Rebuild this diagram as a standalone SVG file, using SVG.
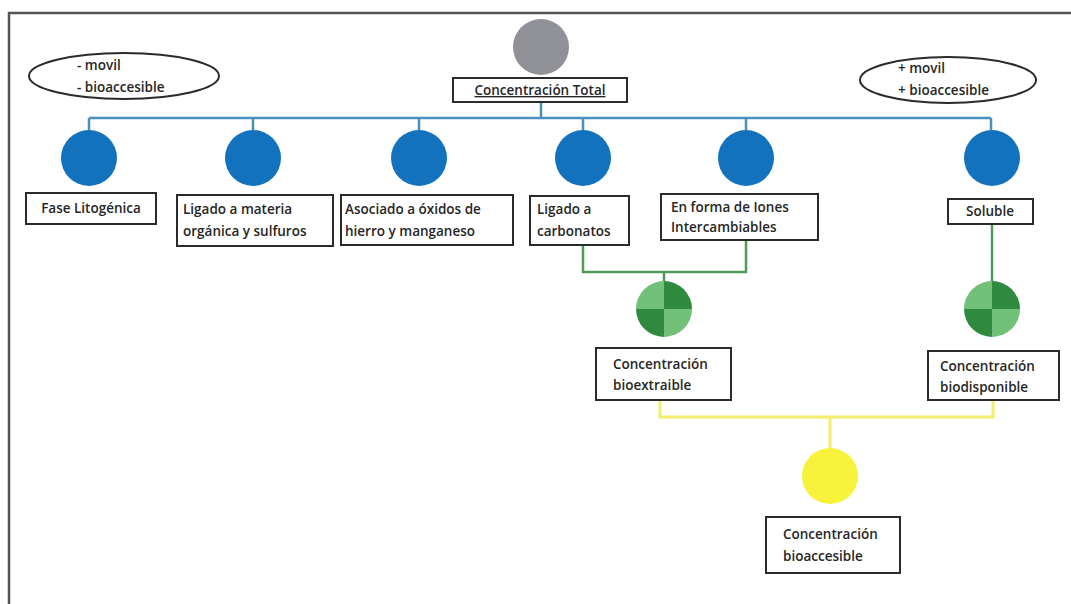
<svg xmlns="http://www.w3.org/2000/svg" width="1071" height="604" viewBox="0 0 1071 604">
<style>
  .frame{stroke:#555;stroke-width:2.5;fill:none}
  .box{fill:#fff;stroke:#2b2b2b;stroke-width:2}
  .ell{fill:#fff;stroke:#2b2b2b;stroke-width:2}
  .t{font-family:"Open Sans","Liberation Sans",sans-serif;font-size:13.5px;font-weight:600;fill:#262626}
  .blue{fill:#1272bd}
  .lb{stroke:#4a8fc0;stroke-width:2.5;fill:none}
  .lg{stroke:#4e9a56;stroke-width:2.5;fill:none}
  .ly{stroke:#f3ee6a;stroke-width:3;fill:none}
</style>
<defs>
  <clipPath id="cc"><circle cx="0" cy="0" r="28"/></clipPath>
  <g id="checker">
    <g clip-path="url(#cc)">
      <rect x="-28" y="-28" width="28" height="28" fill="#72c078"/>
      <rect x="0" y="-28" width="28" height="28" fill="#2f8a3f"/>
      <rect x="-28" y="0" width="28" height="28" fill="#2f8a3f"/>
      <rect x="0" y="0" width="28" height="28" fill="#72c078"/>
    </g>
  </g>
</defs>
<rect width="1071" height="604" fill="#fff"/>
<path class="frame" d="M9,604 V13 H1071"/>

<g id="connectors">
  <path class="lb" d="M541,102 V118"/>
  <path class="lb" d="M89,118 H991"/>
  <path class="lb" d="M89,118 V130 M253,118 V130 M419,118 V130 M583,118 V130 M746,118 V130 M991,118 V130"/>
  <path class="lg" d="M583,245 V272 H746 V240 M664,272 V282"/>
  <path class="lg" d="M992,224 V282"/>
  <path class="ly" d="M660,400 V417 H993 V400 M830,417 V448"/>
</g>

<g id="ellipse-left">
  <ellipse class="ell" cx="124" cy="76" rx="95" ry="23"/>
  <text class="t" x="77" y="70">- movil</text>
  <text class="t" x="77" y="92">- bioaccesible</text>
</g>
<g id="ellipse-right">
  <ellipse class="ell" cx="948" cy="80" rx="88" ry="23"/>
  <text class="t" x="898" y="73">+ movil</text>
  <text class="t" x="898" y="95">+ bioaccesible</text>
</g>

<g id="total">
  <circle cx="541" cy="47" r="28" fill="#8f9197"/>
  <rect class="box" x="453" y="78" width="174" height="24"/>
  <text class="t" x="540" y="95" text-anchor="middle" text-decoration="underline">Concentración Total</text>
</g>

<g id="fase">
  <circle class="blue" cx="89" cy="158" r="28"/>
  <rect class="box" x="26" y="193" width="130" height="31"/>
  <text class="t" x="91" y="213" text-anchor="middle">Fase Litogénica</text>
</g>
<g id="materia">
  <circle class="blue" cx="253" cy="158" r="28"/>
  <rect class="box" x="177" y="195" width="156" height="51"/>
  <text class="t" x="183" y="214">Ligado a materia</text>
  <text class="t" x="183" y="236">orgánica y sulfuros</text>
</g>
<g id="oxidos">
  <circle class="blue" cx="419" cy="158" r="28"/>
  <rect class="box" x="341" y="195" width="172" height="50"/>
  <text class="t" x="345" y="214">Asociado a óxidos de</text>
  <text class="t" x="345" y="236">hierro y manganeso</text>
</g>
<g id="carbonatos">
  <circle class="blue" cx="583" cy="158" r="28"/>
  <rect class="box" x="530" y="196" width="99" height="49"/>
  <text class="t" x="537" y="214">Ligado a</text>
  <text class="t" x="537" y="236">carbonatos</text>
</g>
<g id="iones">
  <circle class="blue" cx="746" cy="158" r="28"/>
  <rect class="box" x="661" y="194" width="157" height="46"/>
  <text class="t" x="671" y="212">En forma de Iones</text>
  <text class="t" x="671" y="232">Intercambiables</text>
</g>
<g id="soluble">
  <circle class="blue" cx="992" cy="158" r="28"/>
  <rect class="box" x="948" y="199" width="85" height="25"/>
  <text class="t" x="990" y="216" text-anchor="middle">Soluble</text>
</g>

<g id="bioextraible">
  <use href="#checker" x="664" y="309"/>
  <rect class="box" x="596" y="348" width="135" height="52"/>
  <text class="t" x="613" y="369">Concentración</text>
  <text class="t" x="613" y="390">bioextraible</text>
</g>
<g id="biodisponible">
  <use href="#checker" x="992" y="309"/>
  <rect class="box" x="928" y="351" width="131" height="49"/>
  <text class="t" x="940" y="371">Concentración</text>
  <text class="t" x="940" y="392">biodisponible</text>
</g>
<g id="bioaccesible">
  <circle cx="830" cy="476" r="28" fill="#f7f23c"/>
  <rect class="box" x="766" y="517" width="134" height="56"/>
  <text class="t" x="783" y="539">Concentración</text>
  <text class="t" x="783" y="561">bioaccesible</text>
</g>
</svg>
